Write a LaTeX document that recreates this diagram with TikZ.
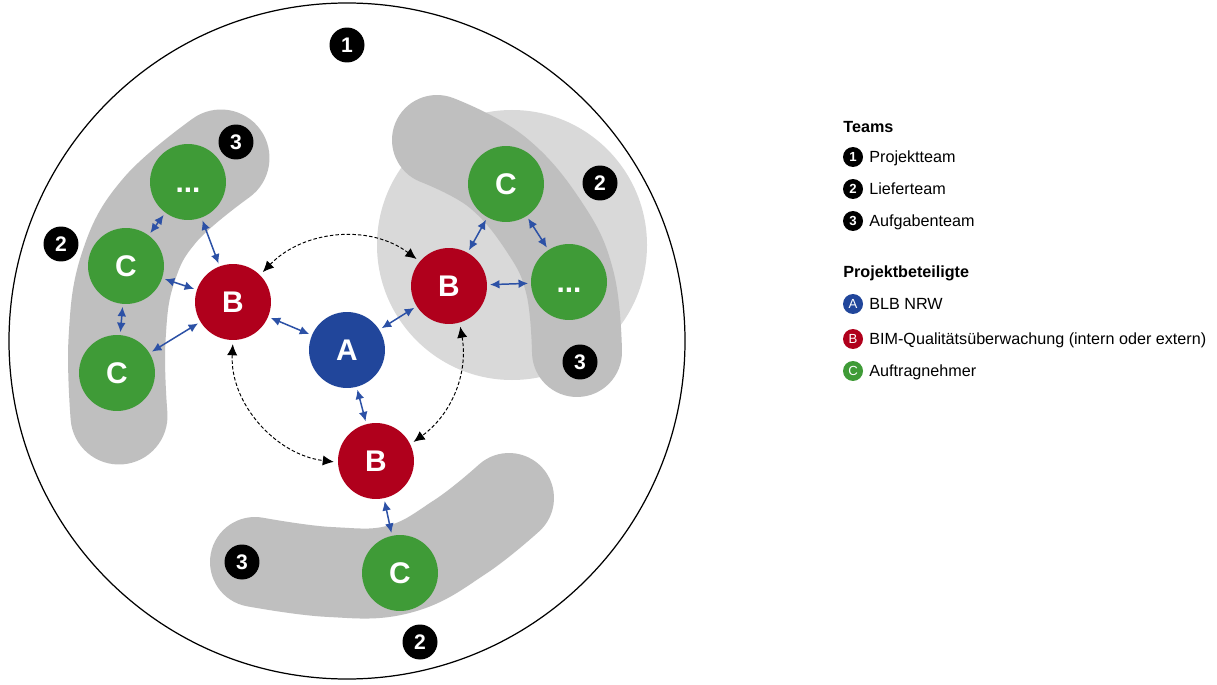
\documentclass[tikz,border=0pt]{standalone}
\usepackage{fontspec}
\setmainfont{Liberation Sans}
\usetikzlibrary{arrows.meta}
\definecolor{blbblue}{HTML}{21469B}
\definecolor{bimred}{HTML}{B0001C}
\definecolor{agngreen}{HTML}{3F9B37}
\definecolor{linkblue}{HTML}{2C51A6}
\definecolor{bandgray}{HTML}{BFBFBF}
\definecolor{zonegray}{HTML}{D9D9D9}
\begin{document}
\begin{tikzpicture}[x=0.02cm,y=0.02cm,
  member/.style={circle, minimum size=1.52cm, inner sep=0pt, text=white,
    font=\fontsize{17}{17}\selectfont\bfseries, text height=12.2pt, text depth=0pt},
  blb/.style={member, fill=blbblue},
  bim/.style={member, fill=bimred},
  agn/.style={member, fill=agngreen},
  badge/.style={circle, fill=black, text=white, minimum size=0.7cm, inner sep=0pt,
    font=\fontsize{12}{12}\selectfont\bfseries, text height=8.6pt, text depth=0pt},
  legbadge/.style={circle, fill=black, text=white, minimum size=0.4cm, inner sep=0pt,
    font=\fontsize{7.5}{7.5}\selectfont\bfseries, text height=5.4pt, text depth=0pt},
  legletter/.style={legbadge, font=\fontsize{7.5}{7.5}\selectfont},
  legtext/.style={anchor=west, inner sep=0pt, font=\fontsize{9.2}{9.2}\selectfont,
    text height=6.6pt, text depth=0pt},
  leghead/.style={legtext, font=\fontsize{9.2}{9.2}\selectfont\bfseries},
  band/.style={draw=bandgray, line cap=round, line join=round},
  link/.style={draw=linkblue, line width=0.85pt,
    {Latex[length=5.4pt,width=5pt]}-{Latex[length=5.4pt,width=5pt]},
    shorten >=1.5pt, shorten <=1.5pt},
  ctrl/.style={draw=black, line width=0.55pt, dash pattern=on 2pt off 1.2pt,
    {Latex[length=6.3pt,width=5.8pt]}-{Latex[length=6.3pt,width=5.8pt]},
    shorten >=2.2pt, shorten <=2.2pt}]
\useasboundingbox (0,0) rectangle (1217,684);
\fill[white] (0,0) rectangle (1217,684);

% delivery team zone (right)
\fill[zonegray] (512,439) circle[radius=135];

% task team bands
\draw[band, line width=1.94cm] plot[smooth, tension=0.7] coordinates
  {(221,526) (160,474) (128,416) (117,344) (119,268)};
\draw[band, line width=1.8cm] plot[smooth, tension=0.7] coordinates
  {(255,122) (330,112) (400,115) (460,147) (509,186)};
\draw[band, line width=1.8cm] plot[smooth, tension=0.7] coordinates
  {(437,544) (497,512) (545,456) (570,401) (577,332)};

% project team boundary
\draw[line width=0.7pt] (347,343) circle[radius=338];

% participants
\node[blb] (A)  at (347,334) {A};
\node[bim] (BL) at (233,382) {B};
\node[bim] (BR) at (449,398) {B};
\node[bim] (BB) at (376,223) {B};
\node[agn] (CL1) at (126,418) {C};
\node[agn] (CL2) at (117,311) {C};
\node[agn] (DL)  at (188,502) {...};
\node[agn] (CR)  at (506,500) {C};
\node[agn] (DR)  at (569,402) {...};
\node[agn] (CB)  at (400,111) {C};

% coordination between quality supervisors
\draw[ctrl] (BL.45) to[out=46, in=143] (BR.140);
\draw[ctrl] (BL.270) to[out=267, in=173] (BB.182);
\draw[ctrl] (BR.286) to[out=280, in=36] (BB.26);

% information exchange
\draw[link] (A) -- (BL);
\draw[link] (A) -- (BR);
\draw[link] (A) -- (BB);
\draw[link] (BL) -- (CL1);
\draw[link] (BL) -- (CL2);
\draw[link] (BL) -- (DL);
\draw[link] (CL1) -- (DL);
\draw[link] (CL1) -- (CL2);
\draw[link] (BR) -- (CR);
\draw[link] (BR) -- (DR);
\draw[link] (CR) -- (DR);
\draw[link] (BB) -- (CB);

% team markers
\node[badge] (m1)  at (347,639) {1};
\node[badge] (m3a) at (236,542) {3};
\node[badge] (m2a) at (61,440) {2};
\node[badge] (m2b) at (600,501) {2};
\node[badge] (m3b) at (580,322) {3};
\node[badge] (m3c) at (242,122) {3};
\node[badge] (m2c) at (420,42) {2};

% legend
\node[leghead] (hteams) at (843,557) {Teams};
\node[legbadge] (k1) at (853,527) {1};
\node[legtext]  (t1) at (869,527) {Projektteam};
\node[legbadge] (k2) at (853,495) {2};
\node[legtext]  (t2) at (869,495) {Lieferteam};
\node[legbadge] (k3) at (853,463) {3};
\node[legtext]  (t3) at (869,463) {Aufgabenteam};
\node[leghead] (hparts) at (843,412) {Projektbeteiligte};
\node[legletter, fill=blbblue]  (kA) at (853,380) {A};
\node[legtext]  (tA) at (869,380) {BLB NRW};
\node[legletter, fill=bimred]   (kB) at (853,345) {B};
\node[legtext]  (tB) at (869,345) {BIM-Qualitätsüberwachung (intern oder extern)};
\node[legletter, fill=agngreen] (kC) at (853,313) {C};
\node[legtext]  (tC) at (869,313) {Auftragnehmer};
\end{tikzpicture}
\end{document}
